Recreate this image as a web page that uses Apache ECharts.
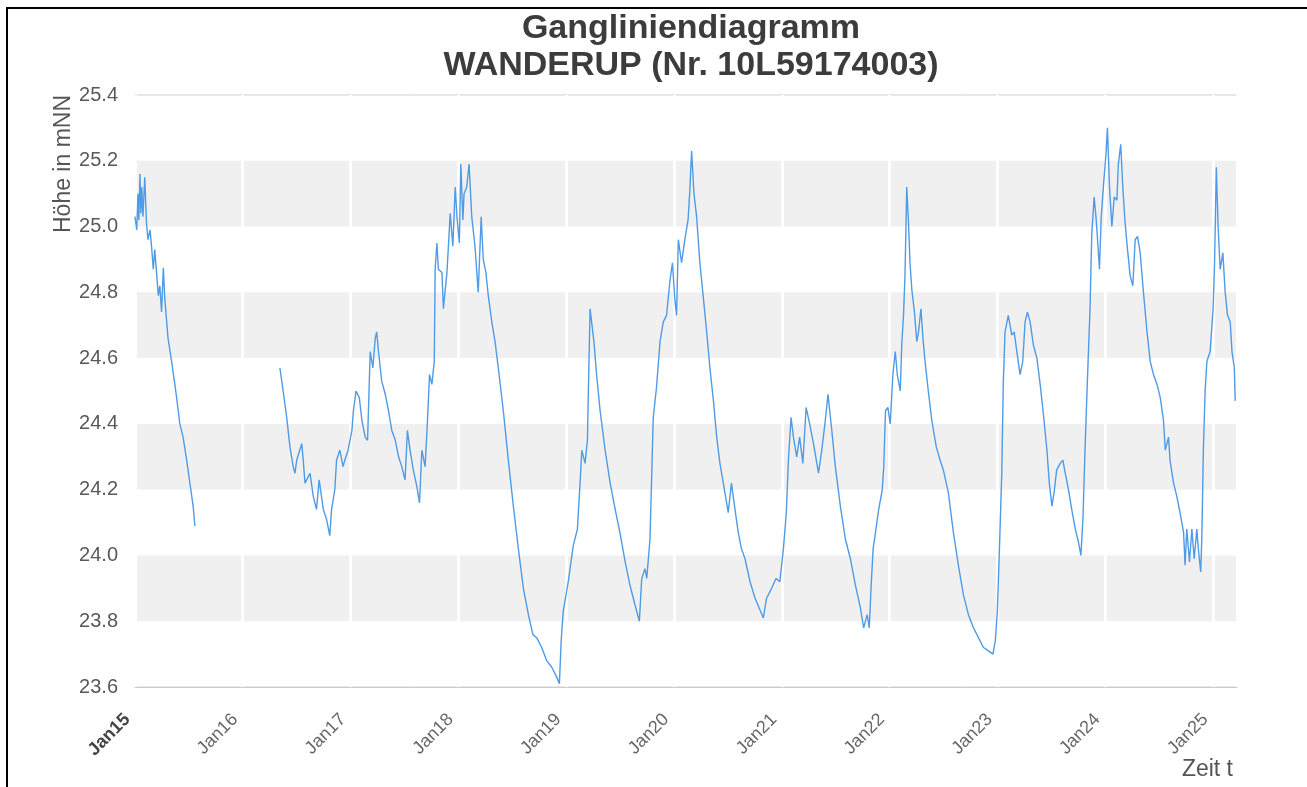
<!DOCTYPE html>
<html>
<head>
<meta charset="utf-8">
<script src="https://cdn.jsdelivr.net/npm/echarts@6/dist/echarts.min.js"></script>
<style>
html,body{margin:0;padding:0;background:#fff;}
#chart{width:1307px;height:787px;}
</style>
</head>
<body>
<div id="chart"></div>
<script>
// ---- DATA ----
var titleLines = ['Gangliniendiagramm', 'WANDERUP (Nr. 10L59174003)'];
var yAxisName = 'Höhe in mNN';
var xAxisName = 'Zeit t';
var axisMin = '2015-01-01';
var axisMax = '2025-03-23';
var yMin = 23.6, yMax = 25.4, yStep = 0.2;

var dates = [
 '2015-01-01','2015-01-07','2015-01-11','2015-01-14','2015-01-18','2015-01-21','2015-01-24','2015-01-28','2015-02-03','2015-02-09',
 '2015-02-14','2015-02-21','2015-02-26','2015-03-04','2015-03-09','2015-03-15','2015-03-21','2015-03-26','2015-04-01','2015-04-07',
 '2015-04-12','2015-04-23','2015-05-05','2015-05-16','2015-05-22','2015-06-02','2015-06-13','2015-06-25','2015-07-06','2015-07-17',
 '2015-07-23','2015-12-01',
 '2016-05-06','2016-05-17','2016-05-29','2016-06-09','2016-06-20','2016-06-26','2016-07-02','2016-07-19','2016-07-24','2016-07-30',
 '2016-08-16','2016-08-27','2016-09-07','2016-09-16','2016-09-30','2016-10-11','2016-10-22','2016-10-28','2016-11-08','2016-11-14',
 '2016-11-25','2016-12-06','2016-12-12','2016-12-23',
 '2017-01-05','2017-01-10','2017-01-19','2017-01-30','2017-02-08','2017-02-19','2017-02-27','2017-03-08','2017-03-17','2017-03-25',
 '2017-03-30','2017-04-05','2017-04-16','2017-04-28','2017-05-09','2017-05-20','2017-06-01','2017-06-12','2017-06-23','2017-07-04',
 '2017-07-12','2017-07-21','2017-08-01','2017-08-13','2017-08-22','2017-08-30','2017-09-10','2017-09-18','2017-09-25','2017-10-03',
 '2017-10-11','2017-10-14','2017-10-20','2017-10-25','2017-11-06','2017-11-11','2017-11-23','2017-12-04','2017-12-13','2017-12-21',
 '2017-12-27',
 '2018-01-04','2018-01-09','2018-01-16','2018-01-20','2018-01-29','2018-02-06','2018-02-15','2018-02-26','2018-03-09','2018-03-19',
 '2018-03-26','2018-04-04','2018-04-12','2018-04-24','2018-05-05','2018-05-16','2018-06-02','2018-06-19','2018-07-06','2018-07-23',
 '2018-08-09','2018-08-26','2018-09-10','2018-09-23','2018-10-10','2018-10-27','2018-11-13','2018-11-30','2018-12-09','2018-12-15',
 '2018-12-22',
 '2019-01-08','2019-01-25','2019-02-08','2019-02-17','2019-02-23','2019-03-06','2019-03-14','2019-03-17','2019-03-23','2019-03-28',
 '2019-04-05','2019-04-14','2019-04-26','2019-05-13','2019-05-30','2019-06-16','2019-07-02','2019-07-20','2019-08-05','2019-08-22',
 '2019-09-06','2019-09-14','2019-09-25','2019-10-01','2019-10-12','2019-10-18','2019-10-23','2019-11-03','2019-11-15','2019-11-26',
 '2019-12-07','2019-12-18','2019-12-27',
 '2020-01-04','2020-01-10','2020-01-16','2020-01-27','2020-02-07','2020-02-18','2020-02-24','2020-03-01','2020-03-09','2020-03-18',
 '2020-03-29','2020-04-09','2020-04-21','2020-05-02','2020-05-14','2020-05-25','2020-06-05','2020-06-22','2020-07-03','2020-07-14',
 '2020-07-26','2020-08-06','2020-08-17','2020-08-29','2020-09-15','2020-10-02','2020-10-16','2020-10-30','2020-11-10','2020-11-27',
 '2020-12-12','2020-12-25',
 '2021-01-06','2021-01-16','2021-01-23','2021-02-01','2021-02-09','2021-02-20','2021-03-02','2021-03-13','2021-03-24','2021-04-05',
 '2021-04-18','2021-05-05','2021-05-16','2021-05-28','2021-06-06','2021-06-19','2021-07-01','2021-07-18','2021-08-04','2021-08-21',
 '2021-09-07','2021-09-24','2021-10-05','2021-10-17','2021-10-24','2021-10-30','2021-11-06','2021-11-14','2021-11-25','2021-12-07',
 '2021-12-12','2021-12-18','2021-12-26',
 '2022-01-03','2022-01-12','2022-01-20','2022-01-27','2022-02-06','2022-02-11','2022-02-17','2022-02-22','2022-02-28','2022-03-06',
 '2022-03-11','2022-03-17','2022-03-26','2022-04-03','2022-04-09','2022-04-17','2022-04-24','2022-05-01','2022-05-12','2022-05-24',
 '2022-06-08','2022-06-21','2022-07-02','2022-07-19','2022-08-05','2022-08-22','2022-09-08','2022-09-25','2022-10-12','2022-10-29',
 '2022-11-15','2022-12-02','2022-12-17','2022-12-25',
 '2023-01-01','2023-01-08','2023-01-16','2023-01-21','2023-01-27','2023-02-07','2023-02-19','2023-02-27','2023-03-08','2023-03-19',
 '2023-03-28','2023-04-05','2023-04-13','2023-04-22','2023-05-03','2023-05-15','2023-05-26','2023-06-06','2023-06-18','2023-06-26',
 '2023-07-05','2023-07-12','2023-07-21','2023-08-02','2023-08-11','2023-08-19','2023-08-30','2023-09-10','2023-09-22','2023-10-03',
 '2023-10-11','2023-10-18','2023-10-25','2023-11-02','2023-11-11','2023-11-17','2023-11-25','2023-12-02','2023-12-08','2023-12-13',
 '2023-12-19','2023-12-27',
 '2024-01-04','2024-01-09','2024-01-16','2024-01-24','2024-02-01','2024-02-10','2024-02-15','2024-02-23','2024-03-01','2024-03-09',
 '2024-03-17','2024-03-26','2024-04-04','2024-04-12','2024-04-20','2024-04-29','2024-05-10','2024-05-22','2024-06-02','2024-06-13',
 '2024-06-25','2024-07-06','2024-07-17','2024-07-23','2024-08-03','2024-08-08','2024-08-20','2024-08-31','2024-09-11','2024-09-23',
 '2024-09-28','2024-10-04','2024-10-13','2024-10-21','2024-10-29','2024-11-07','2024-11-12','2024-11-20','2024-11-24','2024-11-29',
 '2024-12-05','2024-12-11','2024-12-22',
 '2025-01-01','2025-01-06','2025-01-12','2025-01-18','2025-01-25','2025-02-03','2025-02-11','2025-02-19','2025-02-28','2025-03-06',
 '2025-03-14','2025-03-17'
];

var levels = [
 25.03,24.99,25.10,25.02,25.16,25.04,25.12,25.03,25.15,25.01,
 24.96,24.99,24.94,24.87,24.93,24.86,24.79,24.82,24.74,24.875,
 24.78,24.66,24.59,24.52,24.48,24.40,24.36,24.29,24.22,24.15,
 24.09,null,
 24.57,24.50,24.42,24.33,24.27,24.25,24.29,24.34,24.29,24.22,
 24.25,24.18,24.14,24.23,24.14,24.11,24.06,24.14,24.20,24.29,
 24.32,24.27,24.29,24.32,
 24.38,24.44,24.50,24.48,24.41,24.36,24.35,24.62,24.57,24.66,
 24.68,24.62,24.53,24.49,24.44,24.38,24.35,24.30,24.27,24.23,
 24.38,24.32,24.26,24.21,24.16,24.32,24.27,24.41,24.55,24.52,
 24.59,24.87,24.95,24.87,24.86,24.75,24.86,25.04,24.94,25.12,
 25.03,
 24.95,25.19,25.02,25.10,25.12,25.19,25.03,24.94,24.80,25.03,
 24.90,24.86,24.79,24.71,24.65,24.57,24.44,24.29,24.15,24.02,
 23.90,23.82,23.76,23.75,23.72,23.68,23.66,23.63,23.61,23.74,
 23.83,
 23.92,24.03,24.08,24.22,24.32,24.28,24.35,24.49,24.75,24.75,
 24.65,24.55,24.44,24.32,24.22,24.14,24.07,23.98,23.91,23.85,
 23.80,23.93,23.96,23.93,24.05,24.25,24.42,24.51,24.65,24.71,
 24.73,24.83,24.89,
 24.78,24.73,24.96,24.89,24.96,25.02,25.11,25.23,25.10,25.03,
 24.89,24.79,24.68,24.57,24.47,24.36,24.28,24.19,24.13,24.22,
 24.14,24.07,24.02,23.99,23.92,23.87,23.84,23.81,23.87,23.90,
 23.93,23.92,
 24.02,24.13,24.29,24.42,24.36,24.30,24.36,24.28,24.45,24.40,
 24.34,24.25,24.32,24.41,24.49,24.38,24.27,24.15,24.05,23.99,
 23.91,23.84,23.78,23.82,23.78,23.90,24.02,24.07,24.14,24.20,
 24.27,24.44,24.45,
 24.40,24.55,24.62,24.55,24.50,24.64,24.73,24.85,25.12,25.01,
 24.89,24.81,24.74,24.65,24.68,24.75,24.66,24.59,24.50,24.41,
 24.33,24.29,24.26,24.19,24.07,23.97,23.88,23.82,23.78,23.75,
 23.72,23.71,23.70,23.74,
 23.83,24.02,24.25,24.52,24.68,24.73,24.67,24.68,24.62,24.55,
 24.59,24.71,24.74,24.71,24.64,24.60,24.52,24.43,24.32,24.22,
 24.15,24.19,24.26,24.28,24.29,24.25,24.20,24.14,24.08,24.04,
 24.00,24.11,24.32,24.53,24.75,24.98,25.09,25.02,24.94,24.87,
 25.03,25.13,
 25.22,25.30,25.12,25.00,25.09,25.08,25.19,25.25,25.12,25.01,
 24.93,24.85,24.82,24.96,24.97,24.92,24.80,24.68,24.59,24.55,
 24.52,24.48,24.41,24.32,24.36,24.29,24.22,24.18,24.13,24.07,
 23.97,24.08,23.98,24.08,23.99,24.08,24.02,23.95,24.06,24.32,
 24.50,24.59,24.62,
 24.75,24.89,25.18,25.00,24.87,24.92,24.80,24.73,24.71,24.62,
 24.57,24.47
];

// ---- CHART ----
var seriesData = dates.map(function (d, i) {
  return [d, levels[i] === null ? '-' : levels[i]];
});

var chart = echarts.init(document.getElementById('chart'), null, {renderer: 'canvas'});
var firstYear = new Date(axisMin).getFullYear();
var FONT = 'Liberation Sans, Arial, sans-serif';

chart.setOption({
  animation: false,
  backgroundColor: '#fff',
  title: {
    text: titleLines.join('\n'),
    left: 686,
    textAlign: 'center',
    top: 5,
    textStyle: {
      fontFamily: FONT,
      fontSize: 34,
      fontWeight: 'bold',
      color: '#3c3c3c',
      lineHeight: 37
    }
  },
  grid: {
    left: 135, right: 70, top: 95, bottom: 100,
    show: true, borderColor: '#d0d0d0', borderWidth: 1, backgroundColor: 'transparent'
  },
  xAxis: {
    type: 'time',
    min: axisMin,
    max: axisMax,
    z: 2,
    minInterval: 365 * 24 * 3600 * 1000,
    maxInterval: 366 * 24 * 3600 * 1000,
    axisLine: {show: true, lineStyle: {color: '#cccccc'}},
    axisTick: {show: false},
    splitLine: {show: true, lineStyle: {color: '#ffffff', width: 3}},
    axisLabel: {
      rotate: 45,
      margin: 22,
      padding: [0, 11, 0, 0],
      fontFamily: FONT,
      fontSize: 18,
      color: '#666',
      hideOverlap: false,
      formatter: function (val) {
        var d = new Date(val);
        var yy = String(d.getFullYear()).slice(2);
        if (d.getFullYear() === firstYear) return '{b|Jan' + yy + '}';
        return 'Jan' + yy;
      },
      rich: {
        b: {fontWeight: 'bold', color: '#444', fontSize: 18, fontFamily: FONT}
      }
    }
  },
  yAxis: {
    type: 'value',
    min: yMin,
    max: yMax,
    interval: yStep,
    z: 0,
    axisLine: {show: true, lineStyle: {color: '#cccccc'}},
    axisTick: {show: false},
    splitLine: {show: false},
    splitArea: {show: true, areaStyle: {color: ['rgba(255,255,255,0)', '#f0f0f0']}},
    axisLabel: {
      margin: 17,
      fontFamily: FONT,
      fontSize: 20,
      color: '#595959',
      formatter: function (v) { return v.toFixed(1); }
    }
  },
  graphic: [
    {
      type: 'rect', z: 100, silent: true,
      shape: {x: 7, y: 8, width: 1400, height: 900},
      style: {fill: 'none', stroke: '#000', lineWidth: 2}
    },
    {
      type: 'text', z: 100, silent: true,
      x: 64, y: 164, rotation: Math.PI / 2,
      style: {
        text: yAxisName, fill: '#555', align: 'center', verticalAlign: 'middle',
        font: '23px "Liberation Sans", Arial, sans-serif'
      }
    },
    {
      type: 'text', z: 100, silent: true,
      x: 1233, y: 770,
      style: {
        text: xAxisName, fill: '#555', align: 'right', verticalAlign: 'middle',
        font: '23px "Liberation Sans", Arial, sans-serif'
      }
    }
  ],
  series: [{
    type: 'line',
    data: seriesData,
    showSymbol: false,
    connectNulls: false,
    z: 5,
    lineStyle: {color: '#4f9be6', width: 1.4},
    itemStyle: {color: '#4f9be6'}
  }]
});
</script>
</body>
</html>
